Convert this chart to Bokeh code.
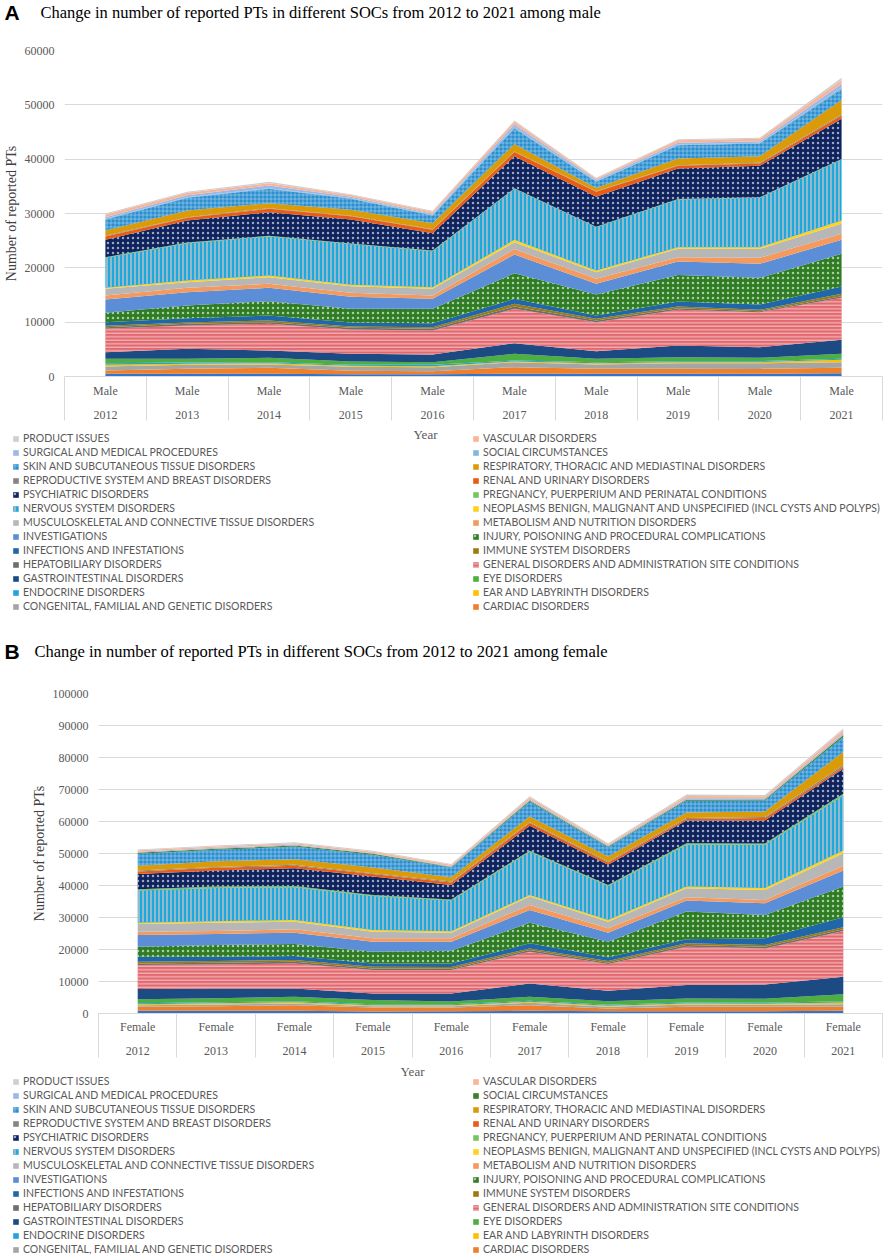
from bokeh.plotting import figure
from bokeh.models import (ColumnDataSource, Range1d, FixedTicker, Legend, LegendItem,
                          Label, BasicTickFormatter)
from bokeh.transform import stack
from bokeh.embed import file_html
from bokeh.resources import INLINE

YEARS = [2012, 2013, 2014, 2015, 2016, 2017, 2018, 2019, 2020, 2021]
Y_TICKS_MALE = [0, 10000, 20000, 30000, 40000, 50000, 60000]
Y_TICKS_FEMALE = [0, 10000, 20000, 30000, 40000, 50000, 60000, 70000, 80000, 90000, 100000]

# stacking order, bottom to top
SOC_NAMES = [
    "BLOOD AND LYMPHATIC SYSTEM DISORDERS",
    "CARDIAC DISORDERS",
    "CONGENITAL, FAMILIAL AND GENETIC DISORDERS",
    "EAR AND LABYRINTH DISORDERS",
    "ENDOCRINE DISORDERS",
    "EYE DISORDERS",
    "GASTROINTESTINAL DISORDERS",
    "GENERAL DISORDERS AND ADMINISTRATION SITE CONDITIONS",
    "HEPATOBILIARY DISORDERS",
    "IMMUNE SYSTEM DISORDERS",
    "INFECTIONS AND INFESTATIONS",
    "INJURY, POISONING AND PROCEDURAL COMPLICATIONS",
    "INVESTIGATIONS",
    "METABOLISM AND NUTRITION DISORDERS",
    "MUSCULOSKELETAL AND CONNECTIVE TISSUE DISORDERS",
    "NEOPLASMS BENIGN, MALIGNANT AND UNSPECIFIED (INCL CYSTS AND POLYPS)",
    "NERVOUS SYSTEM DISORDERS",
    "PREGNANCY, PUERPERIUM AND PERINATAL CONDITIONS",
    "PSYCHIATRIC DISORDERS",
    "RENAL AND URINARY DISORDERS",
    "REPRODUCTIVE SYSTEM AND BREAST DISORDERS",
    "RESPIRATORY, THORACIC AND MEDIASTINAL DISORDERS",
    "SKIN AND SUBCUTANEOUS TISSUE DISORDERS",
    "SOCIAL CIRCUMSTANCES",
    "SURGICAL AND MEDICAL PROCEDURES",
    "VASCULAR DISORDERS",
    "PRODUCT ISSUES",
]

LEGEND_LEFT = [
    "PRODUCT ISSUES", "SURGICAL AND MEDICAL PROCEDURES", "SKIN AND SUBCUTANEOUS TISSUE DISORDERS",
    "REPRODUCTIVE SYSTEM AND BREAST DISORDERS", "PSYCHIATRIC DISORDERS", "NERVOUS SYSTEM DISORDERS",
    "MUSCULOSKELETAL AND CONNECTIVE TISSUE DISORDERS", "INVESTIGATIONS", "INFECTIONS AND INFESTATIONS",
    "HEPATOBILIARY DISORDERS", "GASTROINTESTINAL DISORDERS", "ENDOCRINE DISORDERS",
    "CONGENITAL, FAMILIAL AND GENETIC DISORDERS",
]
LEGEND_RIGHT = [
    "VASCULAR DISORDERS", "SOCIAL CIRCUMSTANCES", "RESPIRATORY, THORACIC AND MEDIASTINAL DISORDERS",
    "RENAL AND URINARY DISORDERS", "PREGNANCY, PUERPERIUM AND PERINATAL CONDITIONS",
    "NEOPLASMS BENIGN, MALIGNANT AND UNSPECIFIED (INCL CYSTS AND POLYPS)",
    "METABOLISM AND NUTRITION DISORDERS", "INJURY, POISONING AND PROCEDURAL COMPLICATIONS",
    "IMMUNE SYSTEM DISORDERS", "GENERAL DISORDERS AND ADMINISTRATION SITE CONDITIONS",
    "EYE DISORDERS", "EAR AND LABYRINTH DISORDERS", "CARDIAC DISORDERS",
]

# ---- male values ----
MALE_BLOOD = [490, 490, 490, 430, 430, 490, 490, 490, 490, 610]
MALE_CARDIAC = [610, 920, 1110, 620, 550, 1230, 920, 920, 910, 990]
MALE_CONGENITAL = [740, 740, 610, 730, 740, 920, 800, 1040, 1050, 1040]
MALE_EAR = [310, 180, 240, 180, 180, 120, 240, 190, 190, 430]
MALE_ENDOCRINE = [300, 250, 190, 220, 250, 190, 190, 180, 180, 180]
MALE_EYE = [800, 670, 800, 570, 490, 1220, 610, 740, 620, 920]
MALE_GASTRO = [1230, 1840, 1350, 1450, 1410, 1960, 1410, 2140, 1960, 2580]
MALE_GENERAL = [4290, 4300, 4900, 4450, 4420, 6320, 5340, 6570, 6440, 7730]
MALE_HEPATO = [310, 300, 310, 300, 300, 430, 310, 310, 180, 310]
MALE_IMMUNE = [250, 250, 310, 250, 310, 490, 300, 300, 250, 420]
MALE_INFECTIONS = [670, 800, 920, 750, 740, 920, 620, 920, 980, 1350]
MALE_INJURY = [1720, 2330, 2640, 2500, 2630, 4710, 3860, 4900, 4910, 6020]
MALE_INVESTIGATIONS = [2450, 2450, 2450, 2250, 1840, 3450, 1960, 2470, 2580, 2570]
MALE_METABOLISM = [730, 800, 740, 700, 610, 1000, 930, 790, 1100, 1110]
MALE_MUSCULO = [1230, 1040, 1220, 1200, 1230, 1250, 1220, 1540, 1660, 1840]
MALE_NEOPLASMS = [190, 310, 310, 300, 310, 450, 300, 300, 300, 600]
MALE_NERVOUS = [5520, 6870, 7180, 7500, 6630, 9390, 7980, 8780, 9080, 11240]
MALE_PREGNANCY = [120, 120, 120, 100, 120, 100, 100, 100, 100, 110]
MALE_PSYCH = [3190, 4050, 4360, 4400, 3190, 5910, 5520, 5620, 5800, 7390]
MALE_RENAL = [620, 490, 610, 600, 610, 750, 900, 480, 420, 610]
MALE_REPRO = [120, 120, 120, 100, 120, 120, 100, 120, 120, 150]
MALE_RESP = [980, 1230, 920, 1100, 1110, 1380, 600, 1220, 1230, 2700]
MALE_SKIN = [2030, 2330, 2640, 2000, 1410, 2900, 1150, 2440, 2320, 2030]
MALE_SOCIAL = [120, 120, 120, 150, 120, 200, 100, 140, 130, 270]
MALE_SURGICAL = [310, 370, 490, 250, 190, 500, 250, 300, 300, 640]
MALE_VASCULAR = [490, 430, 430, 300, 370, 500, 250, 480, 480, 730]
MALE_PRODUCT = [180, 200, 250, 150, 180, 200, 150, 170, 170, 430]

# ---- female values ----
FEMALE_BLOOD = [835, 835, 835, 630, 730, 835, 730, 730, 730, 835]
FEMALE_CARDIAC = [1255, 1465, 1775, 1250, 1150, 1775, 840, 1360, 1360, 1255]
FEMALE_CONGENITAL = [520, 520, 520, 420, 420, 730, 520, 730, 620, 830]
FEMALE_EAR = [310, 420, 420, 310, 310, 310, 310, 310, 320, 520]
FEMALE_ENDOCRINE = [320, 310, 310, 310, 310, 320, 310, 310, 310, 420]
FEMALE_EYE = [1250, 1250, 1360, 1260, 840, 1250, 1150, 1260, 1250, 2190]
FEMALE_GASTRO = [3130, 3030, 2610, 2080, 2500, 4170, 3240, 4170, 4490, 5430]
FEMALE_GENERAL = [7520, 7510, 7830, 7310, 7310, 9920, 8350, 12010, 11270, 14300]
FEMALE_HEPATO = [520, 530, 520, 520, 420, 520, 420, 520, 530, 520]
FEMALE_IMMUNE = [520, 520, 520, 520, 520, 520, 520, 520, 520, 630]
FEMALE_INFECTIONS = [1570, 1360, 1250, 1050, 1150, 1570, 1150, 1250, 2090, 3130]
FEMALE_INJURY = [3130, 3650, 3760, 3650, 3960, 6470, 4900, 8670, 7300, 9610]
FEMALE_INVESTIGATIONS = [3650, 3440, 3550, 3130, 2820, 3970, 2820, 3440, 3660, 5010]
FEMALE_METABOLISM = [1040, 940, 1040, 1050, 1050, 1560, 1360, 1050, 1040, 1460]
FEMALE_MUSCULO = [2400, 2610, 2400, 2080, 1770, 2610, 2080, 2810, 3130, 3960]
FEMALE_NEOPLASMS = [420, 420, 530, 520, 420, 520, 530, 530, 630, 840]
FEMALE_NERVOUS = [10020, 10440, 10230, 10650, 9600, 13470, 10640, 13040, 13460, 17220]
FEMALE_PREGNANCY = [420, 420, 410, 310, 310, 310, 320, 530, 420, 540]
FEMALE_PSYCH = [4800, 5010, 5530, 5750, 4600, 7830, 6260, 7090, 7200, 7810]
FEMALE_RENAL = [730, 830, 740, 830, 730, 840, 730, 420, 740, 530]
FEMALE_REPRO = [320, 310, 310, 210, 310, 300, 320, 320, 310, 520]
FEMALE_RESP = [1460, 1780, 1770, 1780, 1360, 1800, 1560, 1770, 1770, 4170]
FEMALE_SKIN = [3760, 3550, 3970, 3960, 3010, 4600, 2920, 3660, 3450, 4700]
FEMALE_SOCIAL = [310, 310, 310, 310, 200, 300, 220, 300, 300, 520]
FEMALE_SURGICAL = [310, 310, 310, 210, 200, 400, 300, 500, 400, 550]
FEMALE_VASCULAR = [520, 420, 430, 420, 450, 600, 420, 700, 600, 1020]
FEMALE_PRODUCT = [210, 310, 310, 320, 250, 400, 320, 400, 400, 520]

MALE_SERIES = [MALE_BLOOD, MALE_CARDIAC, MALE_CONGENITAL, MALE_EAR, MALE_ENDOCRINE, MALE_EYE,
               MALE_GASTRO, MALE_GENERAL, MALE_HEPATO, MALE_IMMUNE, MALE_INFECTIONS, MALE_INJURY,
               MALE_INVESTIGATIONS, MALE_METABOLISM, MALE_MUSCULO, MALE_NEOPLASMS, MALE_NERVOUS,
               MALE_PREGNANCY, MALE_PSYCH, MALE_RENAL, MALE_REPRO, MALE_RESP, MALE_SKIN,
               MALE_SOCIAL, MALE_SURGICAL, MALE_VASCULAR, MALE_PRODUCT]
FEMALE_SERIES = [FEMALE_BLOOD, FEMALE_CARDIAC, FEMALE_CONGENITAL, FEMALE_EAR, FEMALE_ENDOCRINE,
                 FEMALE_EYE, FEMALE_GASTRO, FEMALE_GENERAL, FEMALE_HEPATO, FEMALE_IMMUNE,
                 FEMALE_INFECTIONS, FEMALE_INJURY, FEMALE_INVESTIGATIONS, FEMALE_METABOLISM,
                 FEMALE_MUSCULO, FEMALE_NEOPLASMS, FEMALE_NERVOUS, FEMALE_PREGNANCY, FEMALE_PSYCH,
                 FEMALE_RENAL, FEMALE_REPRO, FEMALE_RESP, FEMALE_SKIN, FEMALE_SOCIAL,
                 FEMALE_SURGICAL, FEMALE_VASCULAR, FEMALE_PRODUCT]

COLORS_MALE = ["#2E75D3", "#F07F2A", "#A5A5A5", "#FFC000", "#22A3DD", "#4CAF3F", "#1C4A82",
               "#E2686F", "#6E6E6E", "#9C7A12", "#1F67A8", "#2F7D23", "#5B8ED6", "#F59A5E",
               "#B7B7B7", "#FFD21F", "#1AAADF", "#78C560", "#0E235E", "#EA5B16", "#858585",
               "#DB9B09", "#2A8FD0", "#82B8DC", "#9DB8E6", "#F8B598", "#CFCFCF"]
COLORS_FEMALE = list(COLORS_MALE)
COLORS_FEMALE[23] = "#3D7F27"

HATCH = {
    "GENERAL DISORDERS AND ADMINISTRATION SITE CONDITIONS": ("horizontal_line", "#F8D3D3", 3.5, 1.0, 0.9),
    "NERVOUS SYSTEM DISORDERS": ("vertical_line", "#96B8C7", 4.0, 2.0, 1.0),
    "PSYCHIATRIC DISORDERS": ("dot", "#FFFFFF", 5.0, 1.0, 0.6),
    "INJURY, POISONING AND PROCEDURAL COMPLICATIONS": ("dot", "#FFFFFF", 5.0, 1.0, 0.6),
    "SKIN AND SUBCUTANEOUS TISSUE DISORDERS": ("cross", "#FFFFFF", 4.0, 0.8, 0.42),
}

TEXT_GRAY = "#595959"
FIG_W = 886


def blank_fig(height):
    p = figure(width=FIG_W, height=height, x_range=Range1d(0, 1), y_range=Range1d(0, 1),
               output_backend="svg", toolbar_location=None,
               x_axis_location=None, y_axis_location=None,
               min_border_left=0, min_border_right=0, min_border_top=0, min_border_bottom=0)
    p.outline_line_color = None
    p.grid.visible = False
    return p


def add_layers(p, src, colors, visible):
    keys = ["s%d" % i for i in range(len(SOC_NAMES))]
    rend = {}
    for i, (k, name) in enumerate(zip(keys, SOC_NAMES)):
        kw = dict(fill_color=colors[i], fill_alpha=1.0)
        h = HATCH.get(name)
        if h:
            kw.update(hatch_pattern=h[0], hatch_color=h[1], hatch_scale=h[2],
                      hatch_weight=h[3], hatch_alpha=h[4])
        r = p.varea(x="year", y1=stack(*keys[:i]), y2=stack(*keys[:i + 1]), source=src,
                    visible=visible, **kw)
        rend[name] = r
    return rend


def make_panel(letter, title_text, sex_label, series, colors, y_max, y_ticks, g):
    keys = ["s%d" % i for i in range(len(SOC_NAMES))]
    data = {"year": YEARS}
    for k, vals in zip(keys, series):
        data[k] = vals
    src = ColumnDataSource(data)

    # ---- header: panel letter + title ----
    hdr = blank_fig(g["hdr_h"])
    hdr.add_layout(Label(x=4, y=g["letter_y"], x_units="screen", y_units="screen",
                         text=letter, text_font="Liberation Sans", text_font_style="bold",
                         text_font_size="21px", text_color="black", text_baseline="middle"))
    hdr.add_layout(Label(x=g["title_x"], y=g["title_y"], x_units="screen", y_units="screen",
                         text=title_text, text_font="Liberation Serif", text_font_size="16.5px",
                         text_color="black", text_baseline="middle"))

    # ---- chart ----
    p = figure(width=FIG_W, height=g["chart_h"],
               x_range=Range1d(YEARS[0] - 0.5, YEARS[-1] + 0.5),
               y_range=Range1d(0, y_max),
               output_backend="svg", toolbar_location=None,
               min_border_left=g["left"], min_border_right=4,
               min_border_top=g["top"], min_border_bottom=g["bottom"])
    p.outline_line_color = None
    add_layers(p, src, colors, True)

    p.yaxis.ticker = FixedTicker(ticks=y_ticks)
    p.yaxis.formatter = BasicTickFormatter(use_scientific=False)
    p.yaxis.axis_line_color = None
    p.yaxis.major_tick_line_color = None
    p.yaxis.major_tick_out = 0
    p.yaxis.minor_tick_line_color = None
    p.yaxis.major_label_text_font = "Liberation Serif"
    p.yaxis.major_label_text_font_size = "12px"
    p.yaxis.major_label_text_color = TEXT_GRAY
    p.yaxis.major_label_standoff = 10
    p.yaxis.axis_label = "Number of reported PTs"
    p.yaxis.axis_label_text_font = "Liberation Serif"
    p.yaxis.axis_label_text_font_size = "14px"
    p.yaxis.axis_label_text_font_style = "normal"
    p.yaxis.axis_label_text_color = "#404040"
    p.yaxis.axis_label_standoff = 3
    p.ygrid.grid_line_color = "#D9D9D9"
    p.xgrid.grid_line_color = None

    bounds = [y - 0.5 for y in YEARS] + [YEARS[-1] + 0.5]
    p.xaxis.ticker = FixedTicker(ticks=YEARS, minor_ticks=bounds)
    overrides = {}
    for y in YEARS:
        overrides[y] = "%s\n%d" % (sex_label, y)
        overrides[str(y)] = "%s\n%d" % (sex_label, y)
    p.xaxis.major_label_overrides = overrides
    p.xaxis.major_label_text_font = "Liberation Serif"
    p.xaxis.major_label_text_font_size = "12px"
    p.xaxis.major_label_text_color = TEXT_GRAY
    p.xaxis.major_label_text_line_height = 1.75
    p.xaxis.major_label_standoff = g["x_standoff"]
    p.xaxis.major_tick_line_color = None
    p.xaxis.major_tick_out = 0
    p.xaxis.major_tick_in = 0
    p.xaxis.minor_tick_line_color = "#D9D9D9"
    p.xaxis.minor_tick_out = 44
    p.xaxis.minor_tick_in = 0
    p.xaxis.axis_line_color = "#D9D9D9"

    # ---- legend area ----
    lg = blank_fig(g["leg_h"])
    lrend = add_layers(lg, src, colors, False)
    lg.add_layout(Label(x=g["year_x"], y=g["year_y"], x_units="screen", y_units="screen",
                        text="Year", text_font="Liberation Serif", text_font_size="13px",
                        text_color=TEXT_GRAY, text_align="center", text_baseline="middle"))
    for names, lx in ((LEGEND_LEFT, 12), (LEGEND_RIGHT, 472)):
        leg = Legend(items=[LegendItem(label=n, renderers=[lrend[n]]) for n in names],
                     location=(lx, g["leg_y"]), orientation="vertical",
                     padding=0, margin=0, spacing=0, border_line_color=None,
                     background_fill_alpha=0, glyph_width=7, glyph_height=7,
                     label_standoff=4, label_height=14, click_policy="none",
                     inactive_fill_alpha=0,
                     label_text_font="Lato", label_text_font_size="10.5px",
                     label_text_color=TEXT_GRAY)
        lg.add_layout(leg)
    return [hdr, p, lg]


geo_a = dict(hdr_h=40, letter_y=28, title_x=40, title_y=28,
             chart_h=388, left=61, top=10, bottom=52, x_standoff=-37,
             leg_h=192, leg_y=7, year_x=425, year_y=186)
geo_b = dict(hdr_h=53, letter_y=22, title_x=34, title_y=22,
             chart_h=390, left=98, top=20, bottom=50, x_standoff=-38,
             leg_h=193, leg_y=0, year_x=412, year_y=185)

panel_a = make_panel("A", "Change in number of reported PTs in different SOCs from 2012 to 2021 among male",
                     "Male", MALE_SERIES, COLORS_MALE, 60000, Y_TICKS_MALE, geo_a)
panel_b = make_panel("B", "Change in number of reported PTs in different SOCs from 2012 to 2021 among female",
                     "Female", FEMALE_SERIES, COLORS_FEMALE, 100000, Y_TICKS_FEMALE, geo_b)

open("out.html", "w").write(file_html(panel_a + panel_b, INLINE))
